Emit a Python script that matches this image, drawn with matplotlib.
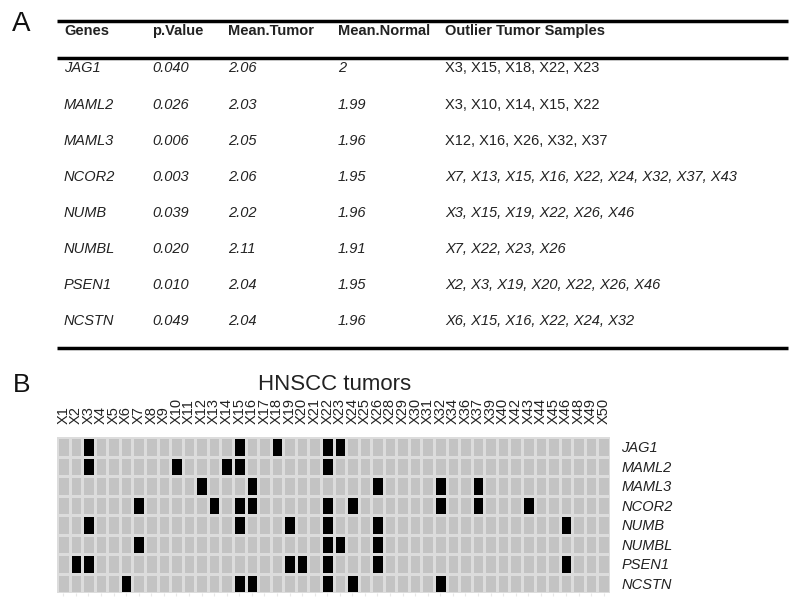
import numpy as np
import matplotlib
matplotlib.use("Agg")
import matplotlib.pyplot as plt
from matplotlib.colors import ListedColormap

plt.rcParams['font.family'] = ['Liberation Sans', 'DejaVu Sans']

genes = ['JAG1', 'MAML2', 'MAML3', 'NCOR2', 'NUMB', 'NUMBL', 'PSEN1', 'NCSTN']
p_values = [0.040, 0.026, 0.006, 0.003, 0.039, 0.020, 0.010, 0.049]
mean_tumor = [2.06, 2.03, 2.05, 2.06, 2.02, 2.11, 2.04, 2.04]
mean_normal = [2.00, 1.99, 1.96, 1.95, 1.96, 1.91, 1.95, 1.96]
outliers = [
    [3, 15, 18, 22, 23],
    [3, 10, 14, 15, 22],
    [12, 16, 26, 32, 37],
    [7, 13, 15, 16, 22, 24, 32, 37, 43],
    [3, 15, 19, 22, 26, 46],
    [7, 22, 23, 26],
    [2, 3, 19, 20, 22, 26, 46],
    [6, 15, 16, 22, 24, 32],
]
# samples shown in the heatmap
samples = list(range(1, 27)) + [28, 29, 30, 31, 32, 34, 36, 37, 39, 40,
                                 42, 43, 44, 45, 46, 48, 49, 50]

W, H = 800, 607
fig = plt.figure(figsize=(W / 100, H / 100), dpi=100)

# ---- panel A: table, drawn in pixel coordinates
ax0 = fig.add_axes([0, 0, 1, 1])
ax0.set_xlim(0, W)
ax0.set_ylim(H, 0)
ax0.axis('off')

txt = '#222222'
fs = 10.5
col_x = [64, 152, 228, 338, 445]
headers = ['Genes', 'p.Value', 'Mean.Tumor', 'Mean.Normal', 'Outlier Tumor Samples']

ax0.text(12, 24, 'A', fontsize=20, va='center', ha='left', color='#111111')
for lw_y in [21, 57.5, 348]:
    ax0.plot([57, 788], [lw_y, lw_y], color='black', lw=2.5,
             solid_capstyle='butt')

for x, h in zip(col_x, headers):
    ax0.text(x, 31, h, fontsize=fs, fontweight='bold', va='center', color=txt)

for i, g in enumerate(genes):
    y = 68.5 + i * 36.1
    cells = [g, f"{p_values[i]:.3f}", f"{mean_tumor[i]:.2f}",
             f"{mean_normal[i]:g}", ", ".join(f"X{n}" for n in outliers[i])]
    for j, (x, c) in enumerate(zip(col_x, cells)):
        style = 'normal' if (j == 4 and i < 3) else 'italic'
        ax0.text(x, y, c, fontsize=fs, fontstyle=style, va='center', color=txt)

# ---- panel B: outlier heatmap
ax0.text(13, 385, 'B', fontsize=19, va='center', ha='left', color='#111111')
ax0.text(335, 384, 'HNSCC tumors', fontsize=16, va='center', ha='center',
         color='#222222')

mat = np.zeros((len(genes), len(samples)))
for i, lst in enumerate(outliers):
    for n in lst:
        mat[i, samples.index(n)] = 1

left, right, top, bottom = 57, 610, 437, 593
ax = fig.add_axes([left / W, 1 - bottom / H, (right - left) / W, (bottom - top) / H])
ax.pcolormesh(mat, cmap=ListedColormap(['#c3c3c3', '#000000']),
              edgecolors='#dcdcdc', linewidth=1.0)
ax.set_xlim(0, len(samples))
ax.set_ylim(len(genes), 0)
for s in ax.spines.values():
    s.set_visible(False)

ax.set_xticks(np.arange(len(samples)) + 0.5)
ax.set_xticklabels([f"X{n}" for n in samples], rotation=90, fontsize=10.5,
                   color='#222222')
ax.xaxis.tick_top()
ax.tick_params(axis='x', which='both', top=False, bottom=True, length=2.5,
               color='#e8e8e8', pad=7, labeltop=True, labelbottom=False)

ax.set_yticks(np.arange(len(genes)) + 0.5)
ax.set_yticklabels(genes, fontsize=10.5, fontstyle='italic', color='#222222')
ax.yaxis.tick_right()
ax.tick_params(axis='y', length=0, pad=8)

fig.savefig('out.png', dpi=100)
